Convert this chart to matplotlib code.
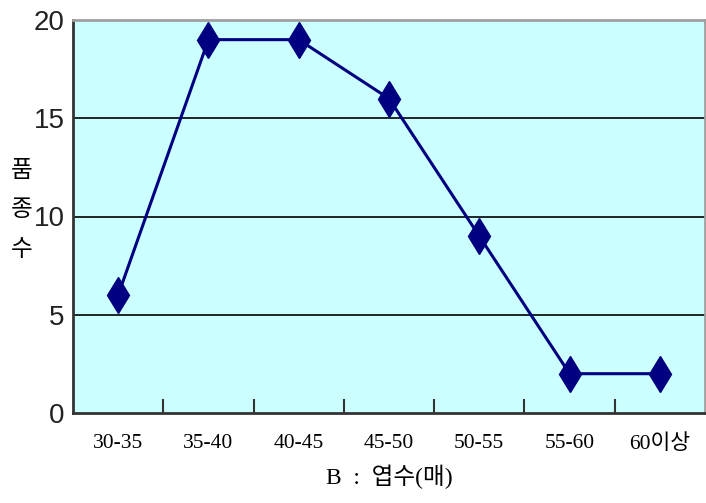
import matplotlib
matplotlib.use("Agg")
import matplotlib.pyplot as plt
import numpy as np

categories = ["30-35", "35-40", "40-45", "45-50", "50-55", "55-60", "60이상"]
counts = [6, 19, 19, 16, 9, 2, 2]
y_ticks = [0, 5, 10, 15, 20]

plt.rcParams['font.family'] = ['Noto Sans CJK KR', 'DejaVu Sans']

fig = plt.figure(figsize=(7.06, 5.03), dpi=100)
ax = fig.add_axes([73/706, 90/503, 632/706, 393/503])
ax.set_facecolor("#CCFFFF")

x = np.arange(len(categories))
ax.plot(x, counts, color="#000080", lw=2.2, marker="d", markersize=18,
        markerfacecolor="#000080", markeredgecolor="#000080", zorder=3)

ax.set_xlim(-0.5, len(categories) - 0.5)
ax.set_ylim(0, 20)

for yv in y_ticks[1:-1]:
    ax.axhline(yv, color="black", lw=1.2, zorder=1)

ax.set_yticks(y_ticks)
ax.set_yticklabels([str(v) for v in y_ticks], fontsize=20,
                   family=['Liberation Sans'], color="#222222")
ax.tick_params(axis='y', length=0, pad=6)

ax.set_xticks(x)
ax.set_xticklabels(categories, fontsize=15.5, family=['Liberation Serif', 'Noto Sans CJK KR'])
ax.tick_params(axis='x', length=0, pad=15)
ax.set_xticks(np.arange(len(categories) - 1) + 0.5, minor=True)
ax.tick_params(axis='x', which='minor', direction='in', length=10, width=1.5, color="#333333")

for s in ['left', 'bottom']:
    ax.spines[s].set_color("#333333")
    ax.spines[s].set_linewidth(2)
for s in ['top', 'right']:
    ax.spines[s].set_color("#A0A0A0")
    ax.spines[s].set_linewidth(2)

ax.set_xlabel("B  :  엽수(매)", fontsize=17, family=['Liberation Serif', 'Noto Sans CJK KR'], labelpad=8)
fig.text(22/706, 1 - 210/503, "품\n종\n수", fontsize=17, ha='center', va='center',
         linespacing=1.9)

fig.savefig("out.png", dpi=100)
